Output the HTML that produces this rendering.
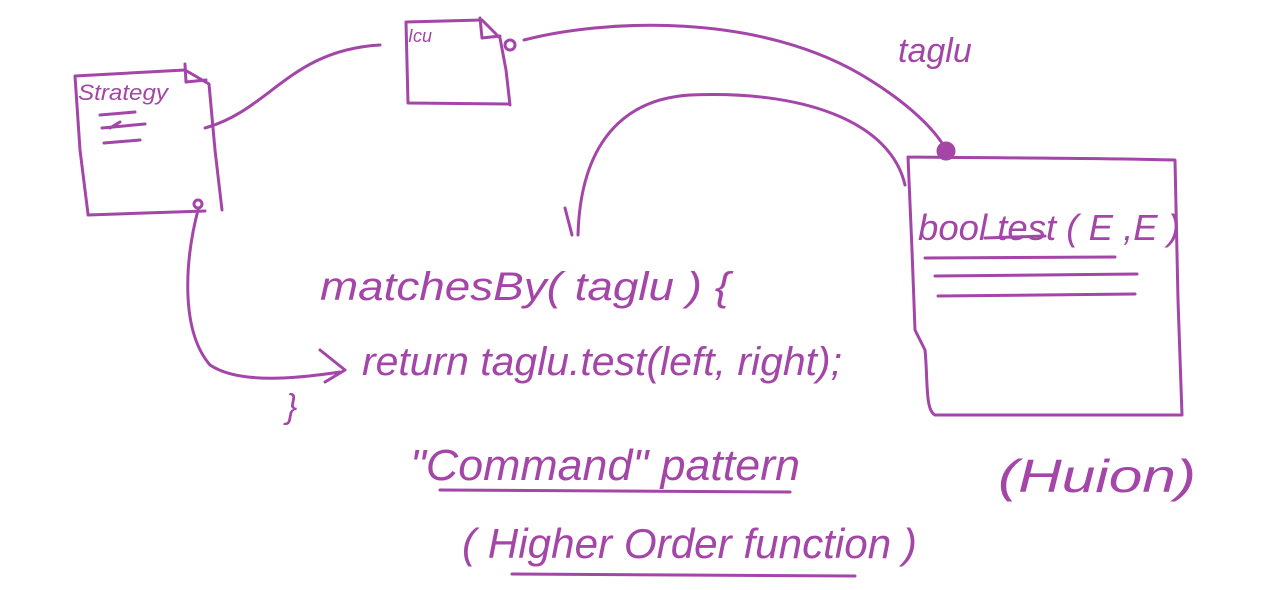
<!DOCTYPE html>
<html>
<head>
<meta charset="utf-8">
<style>
  html, body { margin: 0; padding: 0; background: #ffffff; }
  svg { display: block; }
  .ink { fill: none; stroke: #a346a8; stroke-width: 3; stroke-linecap: round; stroke-linejoin: round; }
  .hw { fill: #a346a8; font-family: "Liberation Sans", "DejaVu Sans", sans-serif; font-style: italic; }
</style>
</head>
<body>
<svg width="1268" height="590" viewBox="0 0 1268 590">
  <g>
    <path class="ink" d="M75,76 L185,70 L209,84 L215,150 L222,210 M88,215 L205,211 M75,76 L80,150 L88,214 M185,64 L186,82 L206,80"/>
    <text class="hw" x="78" y="100" font-size="22" textLength="90" lengthAdjust="spacingAndGlyphs">Strategy</text>
    <path class="ink" d="M100,115 L135,112 M102,128 L145,124 M104,143 L140,140 M110,128 L120,122"/>
    <circle cx="198" cy="204" r="4" class="ink"/>
  </g>
  <path class="ink" d="M205,128 C270,110 290,50 380,45"/>
  <g>
    <path class="ink" d="M406,22 L482,20 L500,38 L506,70 L510,105 M408,103 L508,104 M406,22 L408,103 M480,18 L482,38 L500,36"/>
    <text class="hw" x="408" y="42" font-size="18">Icu</text>
    <circle cx="510" cy="45" r="5" class="ink"/>
  </g>
  <path class="ink" d="M524,40 C600,20 760,10 870,80 C910,105 935,130 945,148"/>
  <text class="hw" x="898" y="62" font-size="34">taglu</text>
  <path class="ink" d="M905,185 C890,120 800,90 690,95 C610,100 580,160 578,235 M565,208 L572,235"/>
  <g>
    <path class="ink" d="M908,157 C1000,158 1100,158 1175,160 L1178,300 L1182,415 L935,415 C925,410 928,380 925,350 L915,330 L912,250 L908,157"/>
    <circle cx="946" cy="151" r="9" fill="#a346a8" stroke="#a346a8"/>
    <text class="hw" x="918" y="240" font-size="36" textLength="262" lengthAdjust="spacingAndGlyphs">bool test ( E  ,E )</text>
    <path class="ink" d="M925,258 L1115,257 M935,276 L1137,274 M938,296 L1135,294 M985,238 L1045,236"/>
  </g>
  <text class="hw" x="320" y="300" font-size="40" textLength="410" lengthAdjust="spacingAndGlyphs">matchesBy(    taglu   ) {</text>
  <path class="ink" d="M198,210 C185,260 180,330 210,365 C240,385 300,378 340,372 M320,350 L345,370 L325,382"/>
  <text class="hw" x="362" y="375" font-size="40" textLength="480" lengthAdjust="spacingAndGlyphs">return  taglu.test(left, right);</text>
  <text class="hw" x="286" y="418" font-size="34">}</text>
  <text class="hw" x="410" y="480" font-size="44" textLength="390" lengthAdjust="spacingAndGlyphs">"Command"  pattern</text>
  <path class="ink" d="M440,490 L790,492"/>
  <text class="hw" x="462" y="558" font-size="42" textLength="455" lengthAdjust="spacingAndGlyphs">( Higher Order function )</text>
  <path class="ink" d="M512,574 L855,576"/>
  <text class="hw" x="998" y="492" font-size="46" textLength="198" lengthAdjust="spacingAndGlyphs">(Huion)</text>
</svg>
</body>
</html>
